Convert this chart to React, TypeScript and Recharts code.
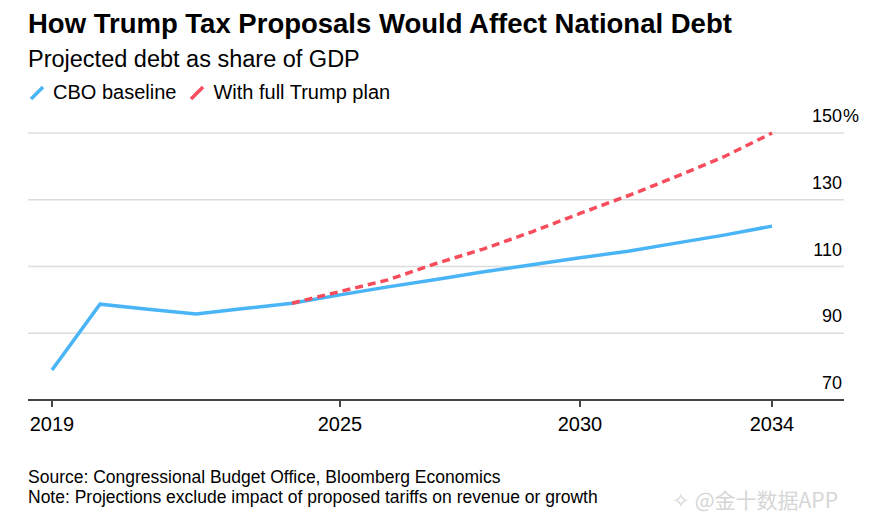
import { LineChart, Line, XAxis, YAxis, CartesianGrid } from 'recharts'

const years = [2019, 2020, 2021, 2022, 2023, 2024, 2025, 2026, 2027, 2028, 2029, 2030, 2031, 2032, 2033, 2034]
const cboBaseline = [79.0, 98.7, 97.2, 95.8, 97.4, 99.0, 101.5, 103.9, 106.1, 108.4, 110.5, 112.6, 114.6, 117.0, 119.4, 122.1]
const trumpPlan = [null, null, null, null, null, 99.0, 102.5, 106.0, 110.9, 115.3, 120.4, 125.9, 131.2, 136.9, 142.9, 150]
const xTicks = [2019, 2025, 2030, 2034]
const yTicks = [70, 90, 110, 130, 150]

const series = [
  { key: 'cbo', name: 'CBO baseline', color: '#49b4f6', dash: undefined },
  { key: 'trump', name: 'With full Trump plan', color: '#f64c5b', dash: '8 5' },
]

const data = years.map((year, i) => ({ year, cbo: cboBaseline[i], trump: trumpPlan[i] }))

const font = '"Liberation Sans", Arial, Helvetica, sans-serif'

// y labels sit above their gridline, right-aligned; % hangs past the edge
function YTick(props: any) {
  const { x, y, payload } = props
  return (
    <g>
      <text x={x - 2} y={y - 11} textAnchor="end" fontSize={18} fill="#000" fontFamily={font}>
        {payload.value}
      </text>
      {payload.value === 150 && (
        <text x={x - 1} y={y - 11} textAnchor="start" fontSize={18} fill="#000" fontFamily={font}>
          %
        </text>
      )}
    </g>
  )
}

export default function App() {
  return (
    <div style={{ position: 'absolute', left: 0, top: 0, width: 877, height: 518, background: '#fff', fontFamily: font }}>
      <div style={{ position: 'absolute', left: 28, top: 8, fontSize: 27.5, fontWeight: 700, color: '#000', whiteSpace: 'nowrap' }}>
        How Trump Tax Proposals Would Affect National Debt
      </div>
      <div style={{ position: 'absolute', left: 28, top: 46, fontSize: 23.5, color: '#000', whiteSpace: 'nowrap' }}>
        Projected debt as share of GDP
      </div>
      <div style={{ position: 'absolute', left: 28, top: 81, display: 'flex', alignItems: 'center', fontSize: 20, color: '#000', whiteSpace: 'nowrap' }}>
        {series.map((s) => (
          <div key={s.key} style={{ display: 'flex', alignItems: 'center', marginRight: 12 }}>
            <svg width={18} height={18} style={{ marginRight: 7 }}>
              <line x1={3} y1={15} x2={15} y2={3} stroke={s.color} strokeWidth={3.5} />
            </svg>
            <span>{s.name}</span>
          </div>
        ))}
      </div>

      <div style={{ position: 'absolute', left: 0, top: 0 }}>
        <LineChart width={877} height={518} data={data} margin={{ top: 133, right: 32, left: 28, bottom: 88 }}>
          <CartesianGrid vertical={false} stroke="#dcdcdc" strokeWidth={1.5} />
          <XAxis
            dataKey="year"
            type="number"
            domain={[2018.5, 2035.5]}
            ticks={xTicks}
            height={30}
            stroke="#444"
            strokeWidth={2}
            tickSize={7}
            tickMargin={10}
            tick={{ fill: '#000', fontSize: 20, fontFamily: font }}
            interval={0}
          />
          <YAxis
            orientation="right"
            width={1}
            domain={[70, 150]}
            ticks={yTicks}
            axisLine={false}
            tickLine={false}
            tickSize={0}
            tickMargin={0}
            tick={(p: any) => <YTick {...p} />}
            interval={0}
          />
          <Line
            dataKey="cbo"
            name="CBO baseline"
            stroke={series[0].color}
            strokeWidth={3.5}
            dot={false}
            isAnimationActive={false}
          />
          <Line
            dataKey="trump"
            name="With full Trump plan"
            stroke={series[1].color}
            strokeWidth={3.5}
            strokeDasharray={series[1].dash}
            dot={false}
            connectNulls={false}
            isAnimationActive={false}
          />
        </LineChart>
      </div>

      <div style={{ position: 'absolute', left: 28, top: 468, fontSize: 17.5, lineHeight: '19.5px', color: '#000', whiteSpace: 'nowrap' }}>
        <div>Source: Congressional Budget Office, Bloomberg Economics</div>
        <div>Note: Projections exclude impact of proposed tariffs on revenue or growth</div>
      </div>
      <div style={{ position: 'absolute', left: 672, top: 484, fontSize: 21, color: '#d6d6d6', whiteSpace: 'nowrap', fontFamily: '"Noto Sans CJK SC", sans-serif' }}>
        ✧ @金十数据APP
      </div>
    </div>
  )
}
